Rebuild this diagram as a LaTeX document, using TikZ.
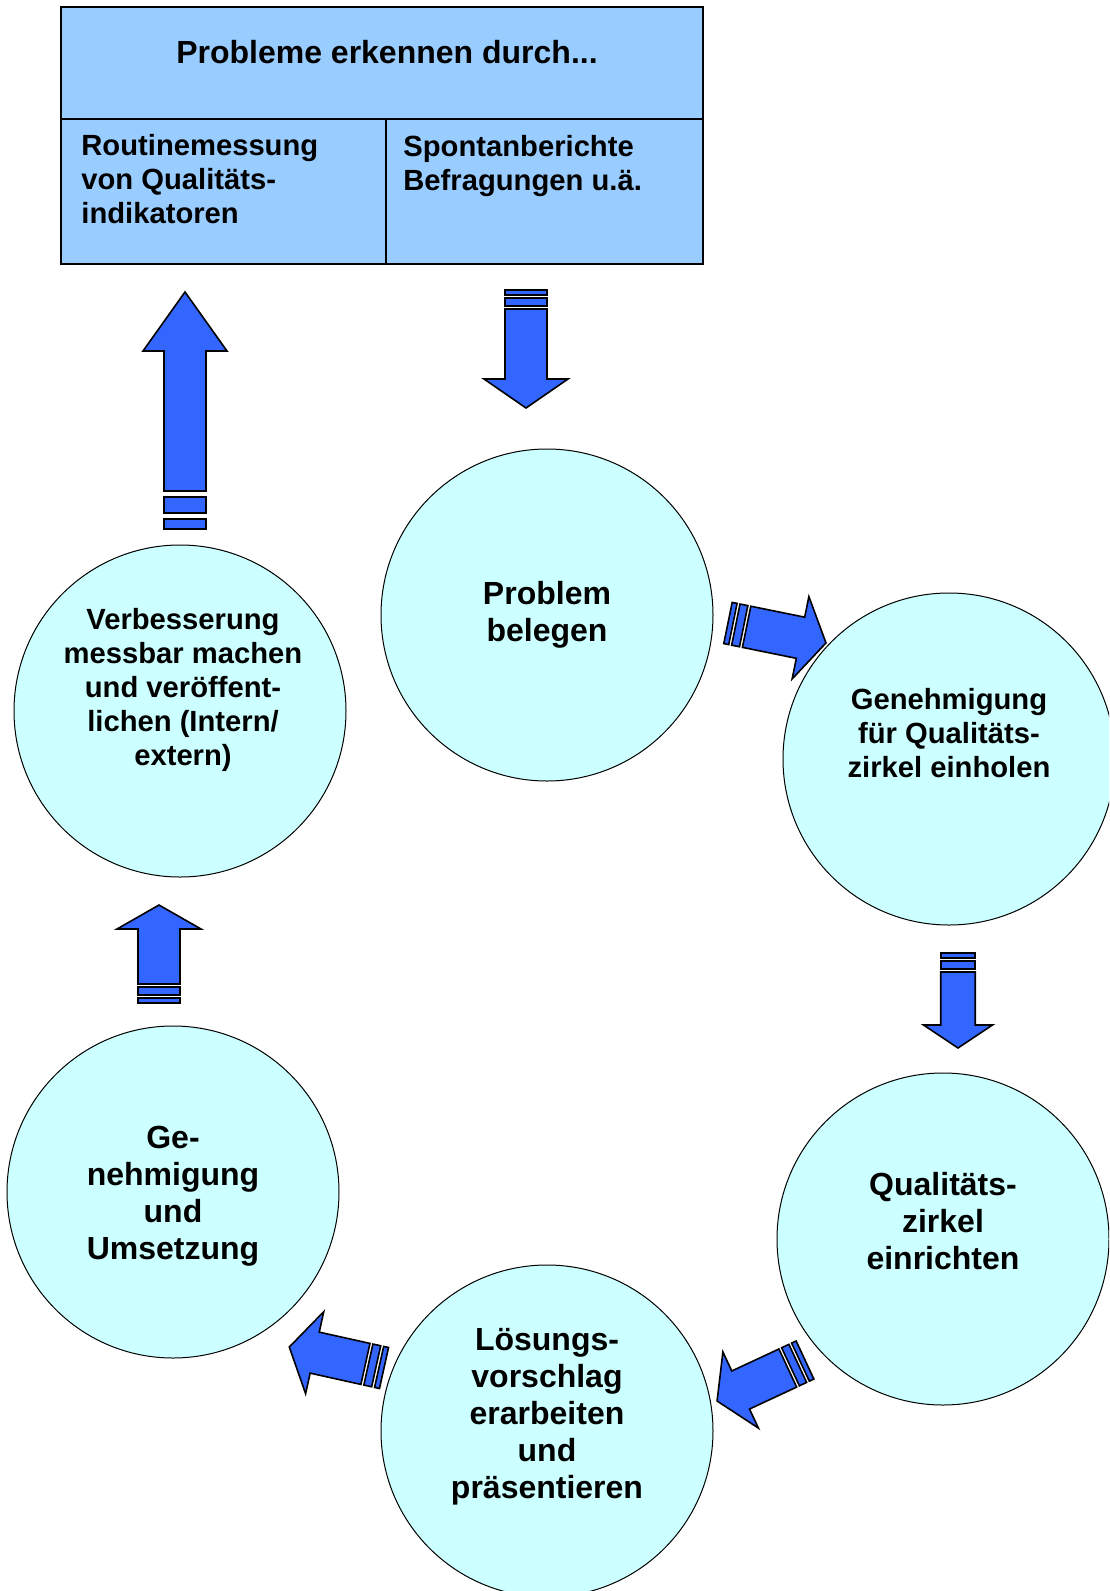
\documentclass[tikz,border=0pt]{standalone}
\usepackage{fontspec}
\setmainfont{Liberation Sans}
\definecolor{boxblue}{HTML}{99CCFF}
\definecolor{circcyan}{HTML}{CCFFFF}
\definecolor{arrblue}{HTML}{3366FF}

\tikzset{
  circ/.style={circle, draw, line width=0.5pt, fill=circcyan, minimum size=166pt, inner sep=0pt},
  cell/.style={rectangle, draw, line width=1pt, fill=boxblue, inner sep=0pt},
  bigtxt/.style={font=\fontsize{16}{18.5}\selectfont\bfseries, align=center, inner sep=0pt},
  smalltxt/.style={font=\fontsize{14.6}{17}\selectfont\bfseries, align=center, inner sep=0pt},
  arr/.style={draw, line width=0.8pt, fill=arrblue, line join=miter},
}

% striped block arrow: tail point, angle, length, head length, stripe scale, width scale
\newcommand\sarrow[6]{%
\begin{scope}[shift={(#1)}, rotate=#2, yscale=#6]
\draw[arr] (0,-21) rectangle (5*#5,21);
\draw[arr] (8*#5,-21) rectangle (16*#5,21);
\draw[arr] (19*#5,-21) -- (#3-#4,-21) -- (#3-#4,-42) -- (#3,0)
  -- (#3-#4,42) -- (#3-#4,21) -- (19*#5,21) -- cycle;
\end{scope}}

\begin{document}
\begin{tikzpicture}[x=0.5pt, y=0.5pt]
\clip (0,0) rectangle (1109,-1591);

% box on top
\node[cell, minimum width=321pt, minimum height=56pt] (head) at (382,-63) {};
\node[cell, minimum width=162.5pt, minimum height=72.5pt] (lcell) at (223.5,-191.5) {};
\node[cell, minimum width=158.5pt, minimum height=72.5pt] (rcell) at (544.5,-191.5) {};
\node[bigtxt] (headtxt) at (387,-52) {Probleme erkennen durch...};
\node[smalltxt, align=left, anchor=north west] (ltxt) at (81,-134)
  {Routinemessung\\von Qualitäts-\\indikatoren};
\node[smalltxt, align=left, anchor=north west] (rtxt) at (403,-135)
  {Spontanberichte\\Befragungen u.ä.};

% circles
\node[circ] (c1) at (547,-615) {};
\node[circ] (c2) at (949,-759) {};
\node[circ] (c3) at (943,-1239) {};
\node[circ] (c4) at (547,-1431) {};
\node[circ] (c5) at (173,-1192) {};
\node[circ] (c6) at (180,-711) {};

\node[bigtxt] (t1) at (c1) {Problem\\belegen};
\node[smalltxt, yshift=13pt] (t2) at (c2) {Genehmigung\\für Qualitäts-\\zirkel einholen};
\node[bigtxt, yshift=9pt] (t3) at (c3) {Qualitäts-\\zirkel\\einrichten};
\node[bigtxt, yshift=7pt] (t4) at (c4) {Lösungs-\\vorschlag\\erarbeiten\\und\\präsentieren};
\node[bigtxt, yshift=-2pt] (t5) at (c5) {Ge-\\nehmigung\\und\\Umsetzung};
\node[smalltxt, yshift=10.5pt, xshift=1.5pt] (t6) at (c6)
  {Verbesserung\\messbar machen\\und veröffent-\\lichen (Intern/\\extern)};

% arrows
\sarrow{526,-290}{-90}{118}{29}{1}{1}
\sarrow{728,-623}{-11.5}{100}{26}{1}{1}
\sarrow{958,-953}{-90}{95}{23}{1}{0.82}
\sarrow{805,-1360}{205}{97}{26}{1}{1}
\sarrow{384,-1368}{167.5}{97}{26}{1}{1}
\sarrow{159,-1003}{90}{98}{24}{1}{1}
\sarrow{185,-529}{90}{237}{59}{2}{1}

\end{tikzpicture}
\end{document}
